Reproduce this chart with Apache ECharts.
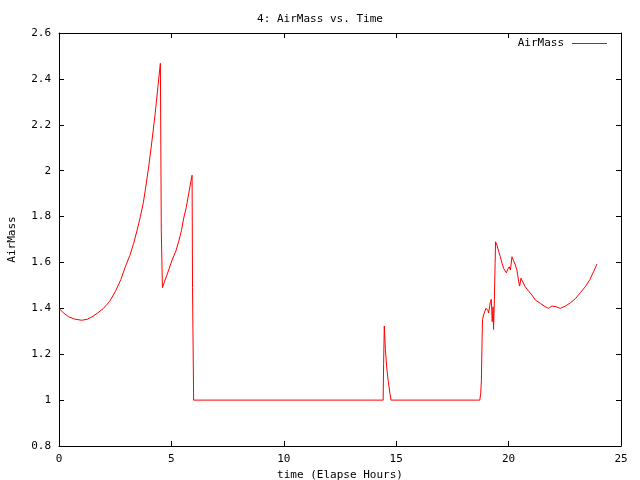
<!DOCTYPE html>
<html>
<head>
<meta charset="utf-8">
<script src="https://cdn.jsdelivr.net/npm/echarts@6/dist/echarts.min.js"></script>
<style>html,body{margin:0;padding:0;background:#fff;}#c{width:640px;height:480px;}</style>
</head>
<body>
<div id="c"></div>
<script>
var titleText = "4: AirMass vs. Time";
var seriesName = "AirMass";
var xAxisName = "time (Elapse Hours)";
var yAxisName = "AirMass";
var hours = [0,0.2,0.43,0.7,1.0,1.25,1.47,1.7,1.98,2.25,2.5,2.75,2.95,3.15,3.32,3.5,3.62,3.75,3.84,3.99,4.14,4.28,4.40,4.51,4.55,4.60,4.8,5.03,5.2,5.32,5.45,5.54,5.66,5.77,5.86,5.92,5.94,5.99,
  14.42,14.44,14.47,14.52,14.58,14.65,14.72,14.77,
  18.72,18.76,18.79,18.82,18.84,18.89,18.99,19.08,19.11,19.19,19.23,19.27,19.31,19.33,19.36,19.40,19.42,19.48,19.56,19.63,19.71,19.78,19.90,19.96,20.03,20.08,20.15,20.22,20.30,20.37,20.45,20.49,20.55,20.61,20.74,20.89,21.04,21.19,21.41,21.63,21.78,21.93,22.11,22.30,22.53,22.75,22.98,23.19,23.41,23.62,23.78,23.93];
var airmass = [1.40,1.38,1.363,1.353,1.348,1.352,1.363,1.378,1.40,1.43,1.472,1.525,1.581,1.63,1.683,1.75,1.80,1.86,1.916,2.017,2.134,2.25,2.366,2.468,1.74,1.49,1.545,1.61,1.65,1.69,1.74,1.79,1.84,1.90,1.95,1.98,1.49,1.00,
  1.00,1.16,1.323,1.22,1.14,1.08,1.03,1.00,
  1.00,1.03,1.087,1.262,1.352,1.371,1.40,1.392,1.38,1.429,1.439,1.342,1.407,1.308,1.404,1.596,1.69,1.676,1.647,1.625,1.596,1.574,1.555,1.570,1.581,1.567,1.625,1.607,1.589,1.567,1.516,1.497,1.531,1.526,1.494,1.475,1.458,1.436,1.422,1.407,1.40,1.410,1.407,1.40,1.410,1.424,1.443,1.468,1.494,1.526,1.560,1.593];

var FONT = "DejaVu Sans Mono";
var data = hours.map(function(h, i){ return [h, airmass[i]]; });
var axisLine = {show:true, onZero:false, lineStyle:{color:'#000', width:1}};
var tick = {show:true, inside:true, length:5, lineStyle:{color:'#000', width:1}};
var lbl = {color:'#000', fontFamily:FONT, fontSize:11};

var chart = echarts.init(document.getElementById('c'), null, {renderer:'canvas'});
chart.setOption({
  animation:false,
  backgroundColor:'#fff',
  title:{text:titleText, left:'center', top:9, textStyle:{fontFamily:FONT, fontSize:11, fontWeight:'normal', color:'#000'}},
  legend:{show:true, right:28, top:33, align:'right', itemWidth:35, itemHeight:2, itemGap:0,
    icon:'path://M0,0H35V1H0Z',
    itemStyle:{color:'#ff0000', borderWidth:0, borderColor:'#ff0000'},
    lineStyle:{color:'#ff0000', width:1},
    textStyle:{fontFamily:FONT, fontSize:11, color:'#000', padding:[0,3,0,0]},
    data:[{name:seriesName}]},
  grid:{left:59, right:19, top:33, bottom:34, containLabel:false, outerBoundsMode:'none'},
  xAxis:[
    {type:'value', min:0, max:25, interval:5, position:'bottom', axisLine:axisLine, axisTick:tick,
     axisLabel:Object.assign({margin:8}, lbl), splitLine:{show:false},
     name:xAxisName, nameLocation:'middle', nameGap:22, nameTextStyle:{fontFamily:FONT, fontSize:11, color:'#000'}},
    {type:'value', min:0, max:25, interval:5, position:'top', axisLine:axisLine, axisTick:tick,
     axisLabel:{show:false}, splitLine:{show:false}}
  ],
  yAxis:[
    {type:'value', min:0.8, max:2.6, interval:0.2, position:'left', axisLine:axisLine, axisTick:tick,
     axisLabel:Object.assign({margin:8, formatter:function(v){return String(Math.round(v*10)/10);}}, lbl), splitLine:{show:false},
     name:yAxisName, nameLocation:'middle', nameGap:41, nameRotate:90, nameTextStyle:{fontFamily:FONT, fontSize:11, color:'#000'}},
    {type:'value', min:0.8, max:2.6, interval:0.2, position:'right', axisLine:axisLine, axisTick:tick,
     axisLabel:{show:false}, splitLine:{show:false}}
  ],
  series:[{name:seriesName, type:'line', data:data, showSymbol:false, symbol:'none',
    lineStyle:{color:'#ff0000', width:1}, itemStyle:{color:'#ff0000'}, xAxisIndex:0, yAxisIndex:0}]
});
</script>
</body>
</html>
